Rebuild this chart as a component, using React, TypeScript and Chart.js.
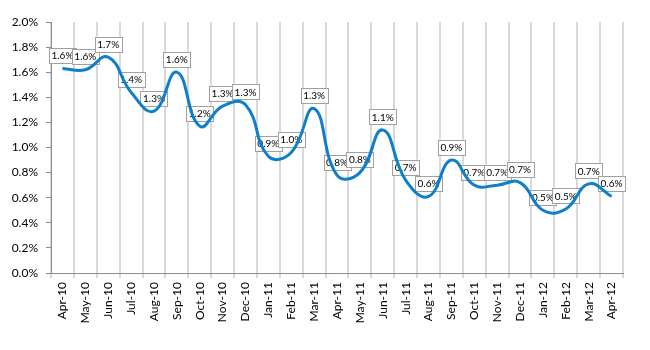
import React, { useEffect, useRef } from "react";
import { Chart, registerables } from "chart.js";

Chart.register(...registerables);

const categories = [
  "Apr-10", "May-10", "Jun-10", "Jul-10", "Aug-10", "Sep-10", "Oct-10", "Nov-10", "Dec-10",
  "Jan-11", "Feb-11", "Mar-11", "Apr-11", "May-11", "Jun-11", "Jul-11", "Aug-11", "Sep-11",
  "Oct-11", "Nov-11", "Dec-11", "Jan-12", "Feb-12", "Mar-12", "Apr-12",
];

const values = [
  1.63, 1.62, 1.72, 1.44, 1.29, 1.6, 1.17, 1.33, 1.34,
  0.93, 0.96, 1.31, 0.78, 0.8, 1.14, 0.74, 0.61, 0.9,
  0.7, 0.7, 0.72, 0.5, 0.51, 0.71, 0.61,
];

const yMin = 0;
const yMax = 2.0;
const yStep = 0.2;

const FONT = "Lato, 'Open Sans', sans-serif";

const labelPlugin = {
  id: "boxLabels",
  beforeDatasetsDraw(chart: any) {
    const ctx = chart.ctx;
    const meta = chart.getDatasetMeta(0);
    ctx.save();
    ctx.font = `10px ${FONT}`;
    ctx.textAlign = "center";
    ctx.textBaseline = "middle";
    meta.data.forEach((pt: any, i: number) => {
      const text = values[i].toFixed(1) + "%";
      const w = ctx.measureText(text).width + 5;
      const h = 15;
      const cx = pt.x;
      const cy = pt.y - 13;
      ctx.fillStyle = "#ffffff";
      ctx.fillRect(cx - w / 2, cy - h / 2, w, h);
      ctx.strokeStyle = "#a0a0a0";
      ctx.lineWidth = 1;
      ctx.strokeRect(Math.round(cx - w / 2) + 0.5, Math.round(cy - h / 2) + 0.5, Math.round(w), h);
      ctx.fillStyle = "#000000";
      ctx.fillText(text, cx, cy + 0.5);
    });
    ctx.restore();
  },
};

export default function App() {
  const ref = useRef<HTMLCanvasElement>(null);
  useEffect(() => {
    document.body.style.margin = "0";
    const chart = new Chart(ref.current!, {
      type: "line",
      data: {
        labels: categories,
        datasets: [
          {
            data: values,
            borderColor: "#0e7fcb",
            borderWidth: 3,
            pointRadius: 0,
            tension: 0.45,
            fill: false,
          },
        ],
      },
      options: {
        responsive: false,
        animation: false,
        layout: { padding: { left: 0, right: 27, top: 22, bottom: 0 } },
        plugins: { legend: { display: false }, tooltip: { enabled: false } },
        scales: {
          x: {
            offset: true,
            grid: {
              offset: true,
              color: "#d9d9d9",
              lineWidth: 2,
              drawTicks: true,
              tickLength: 5,
            },
            border: { color: "#8c8c8c", width: 1 },
            ticks: {
              minRotation: 90,
              maxRotation: 90,
              autoSkip: false,
              color: "#000",
              padding: 4,
              font: { family: FONT, size: 12 },
            },
            afterFit(scale: any) {
              scale.height = 77;
            },
          },
          y: {
            min: yMin,
            max: yMax,
            ticks: {
              stepSize: yStep,
              color: "#000",
              padding: 8,
              font: { family: FONT, size: 12 },
              callback: (v: any) => Number(v).toFixed(1) + "%",
            },
            grid: {
              drawOnChartArea: false,
              drawTicks: true,
              tickLength: 5,
              color: "#8c8c8c",
            },
            border: { color: "#8c8c8c", width: 1 },
            afterFit(scale: any) {
              scale.width = 51;
            },
          },
        },
      },
      plugins: [labelPlugin],
    });
    return () => chart.destroy();
  }, []);
  return (
    <div style={{ width: 650, height: 350 }}>
      <canvas ref={ref} width={650} height={350} style={{ width: 650, height: 350, display: "block" }} />
    </div>
  );
}
